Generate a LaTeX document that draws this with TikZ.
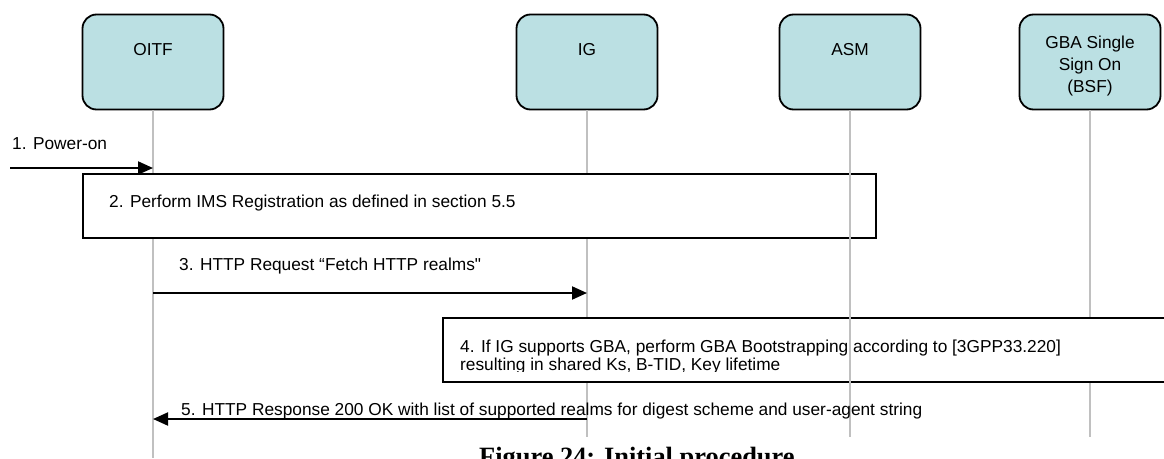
\documentclass[tikz,border=0pt]{standalone}
\usepackage{fontspec}
\newfontfamily\sansfont{Liberation Sans}
\newfontfamily\capfont{Liberation Serif}
\usepackage{tikz}
\usetikzlibrary{calc,math}
\usetikzlibrary{arrows.meta,positioning}
\definecolor{actorfill}{RGB}{187,224,227}
\definecolor{lifegray}{RGB}{192,192,192}

\begin{document}
\begin{tikzpicture}[x=1pt,y=-1pt,
        every node/.style={font=\sansfont\fontsize{17.3}{18}\selectfont, inner sep=0pt},
        actor/.style={draw=black, line width=1.8pt, fill=actorfill, rounded corners=14pt, minimum width=141pt, minimum height=95pt},
        actorname/.style={align=center, font=\sansfont\fontsize{17.3}{22}\selectfont},
        lifeline/.style={draw=lifegray, line width=1.5pt},
        stepbox/.style={draw=black, line width=1.6pt, fill=white, anchor=north west, minimum height=64pt},
        msg/.style={line width=2pt, -{Triangle[length=15pt,width=13pt]}},
        msglabel/.style={anchor=base west}]
        \tikzmath{
            let \lifeend = 437;
            let \pageend = 458;
        }
        \useasboundingbox (0,0) rectangle (1164,\pageend);
        \clip (0,0) rectangle (1164,\pageend);

        \node[actor] (oitf) at (153,62) {};
        \node[actor] (ig) at (587,62) {};
        \node[actor] (asm) at (850,62) {};
        \node[actor] (bsf) at (1090,62) {};
        \node[actorname, below=29.5pt of oitf.north] (oitf-name) {OITF};
        \node[actorname, below=29.5pt of ig.north] (ig-name) {IG};
        \node[actorname, below=29.5pt of asm.north] (asm-name) {ASM};
        \node[actorname, below=22.5pt of bsf.north] (bsf-name) {GBA Single\\Sign On\\(BSF)};

        \coordinate (oitf-end) at (oitf |- 0,\pageend);
        \coordinate (ig-end) at (ig |- 0,\lifeend);
        \coordinate (asm-end) at (asm |- 0,\lifeend);
        \coordinate (bsf-end) at (bsf |- 0,\lifeend);
        \draw[lifeline] (oitf) -- (oitf-end);
        \draw[lifeline] (ig) -- (ig-end);
        \draw[lifeline] (bsf) -- (bsf-end);

        \node[stepbox, minimum width=793pt] (reg) at (82,173) {};
        \node[stepbox, minimum width=760pt] (gba) at (442,317) {};
        \draw[lifeline] (asm) -- (asm-end);

        % 1. power-on
        \coordinate (pwr) at (10,168);
        \draw[msg] (pwr) -- (pwr -| oitf);
        \node[msglabel] (pwr-label) at (12,149.3) {1. Power-on};

        \node[msglabel] (reg-label) at (109,207) {2. Perform IMS Registration as defined in section 5.5};

        \coordinate (fetch) at (0,293);
        \draw[msg] (fetch -| oitf) -- (fetch -| ig);
        \node[msglabel] (fetch-label) at (179,270.7) {3. HTTP Request “Fetch HTTP realms"};

        \begin{scope}
            \clip (442,317) rectangle (1164,371.8);
            \node[msglabel, align=left] (gba-label) at (460,370.3) {4. If IG supports GBA, perform GBA Bootstrapping according to [3GPP33.220]\\resulting in shared Ks, B-TID, Key lifetime};
        \end{scope}

        \coordinate (resp) at (0,419);
        \draw[msg] (resp -| ig) -- (resp -| oitf);
        \node[msglabel] (resp-label) at (181,415) {5. HTTP Response 200 OK with list of supported realms for digest scheme and user-agent string};

        \node[anchor=base west, font=\capfont\bfseries\fontsize{26.4}{28}\selectfont] (caption) at (479,465.5) {Figure 24: Initial procedure};
\end{tikzpicture}
\end{document}
